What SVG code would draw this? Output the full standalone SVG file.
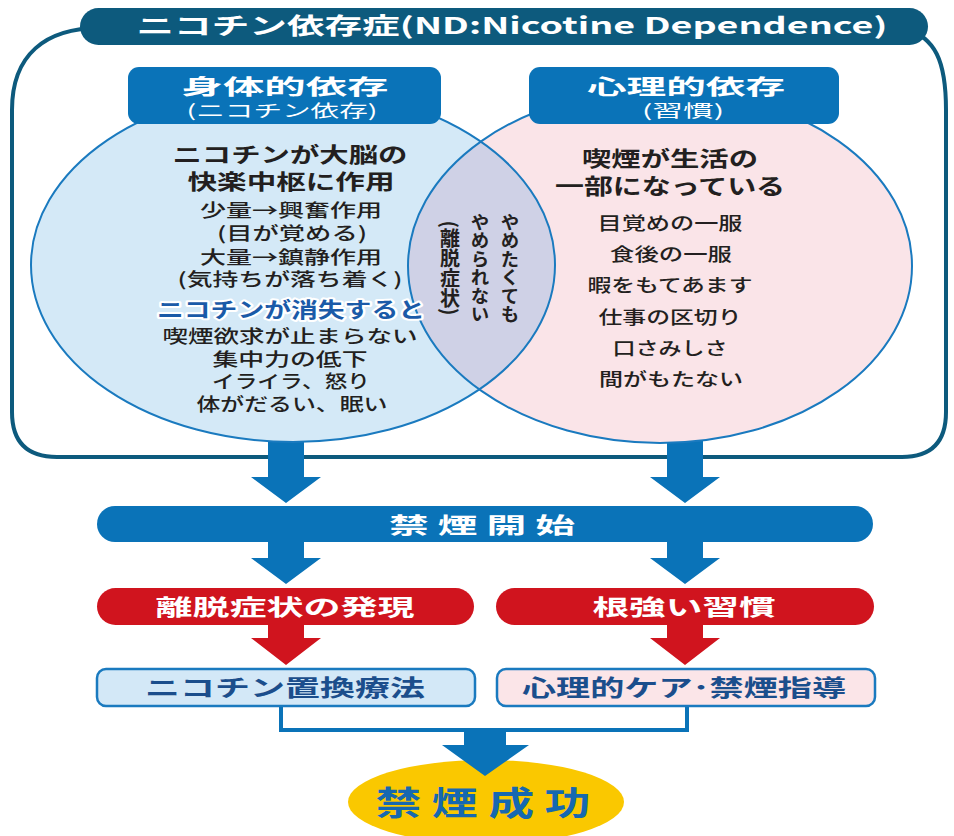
<svg xmlns="http://www.w3.org/2000/svg" width="954" height="836" viewBox="0 0 954 836">
<style>
text{font-family:"Noto Sans CJK JP","Noto Sans",sans-serif;text-anchor:middle}
.b{font-weight:bold}
.m{font-weight:500}
.w{fill:#ffffff}
.d{fill:#231f20}
.n{fill:#1b4e8c;font-weight:bold}
.blue{fill:#0a73b8}
.red{fill:#d0141e}
.vert{writing-mode:vertical-rl;font-weight:bold;fill:#231f20}
</style>
<defs>
<clipPath id="clipL"><ellipse cx="293" cy="265" rx="262" ry="177"/></clipPath>
</defs>
<rect width="954" height="836" fill="#ffffff"/>
<g id="frame">
<path d="M100 28 C45 28 12 55 12 110 L12 412 Q12 457 57 457 L902 457 Q946 457 946 412 L946 110 C946 60 935 38 905 28" fill="none" stroke="#0d5a7d" stroke-width="4"/>
</g>
<g id="title">
<rect x="80" y="8" width="848" height="37" rx="18.5" fill="#0d5a7d"/>
<text x="512" y="34" class="w b" font-size="23" textLength="751" lengthAdjust="spacingAndGlyphs">ニコチン依存症(ND:Nicotine Dependence)</text>
</g>
<g id="connectors">
<path class="blue" d="M268 430 H304 V477 H321 L286 503 L251 477 H268 Z"/>
<path class="blue" d="M667 430 H703 V477 H720 L685 503 L650 477 H667 Z"/>
<path class="blue" d="M268 540 H304 V558 H321 L286 584 L251 558 H268 Z"/>
<path class="blue" d="M667 540 H703 V558 H720 L685 584 L650 558 H667 Z"/>
<path class="red" d="M268 623 H304 V638 H321 L286 665 L251 638 H268 Z"/>
<path class="red" d="M667 623 H703 V638 H720 L685 665 L650 638 H667 Z"/>
<polyline points="281,705 281,730 687,730 687,705" fill="none" stroke="#0a73b8" stroke-width="4"/>
</g>
<g id="venn">
<ellipse cx="293" cy="265" rx="262" ry="177" fill="#d4e9f7"/>
<ellipse cx="660" cy="266" rx="252" ry="177" fill="#fae4e8"/>
<ellipse cx="660" cy="266" rx="252" ry="177" fill="#cfd1e6" clip-path="url(#clipL)"/>
<ellipse cx="293" cy="265" rx="262" ry="177" fill="none" stroke="#1a7abf" stroke-width="2"/>
<ellipse cx="660" cy="266" rx="252" ry="177" fill="none" stroke="#1a7abf" stroke-width="2"/>
</g>
<g id="physical">
<rect x="128" y="67" width="313" height="57" rx="11" fill="#0a73b8"/>
<text x="285" y="94" class="w b" font-size="21" textLength="207" lengthAdjust="spacingAndGlyphs">身体的依存</text>
<text x="282" y="117" class="w" font-size="17" textLength="191" lengthAdjust="spacingAndGlyphs">(ニコチン依存)</text>
<text x="290" y="162" class="d b" font-size="21" textLength="235" lengthAdjust="spacingAndGlyphs">ニコチンが大脳の</text>
<text x="291" y="189" class="d b" font-size="21" textLength="207" lengthAdjust="spacingAndGlyphs">快楽中枢に作用</text>
<text x="291" y="217" class="d m" font-size="18" textLength="182" lengthAdjust="spacingAndGlyphs">少量→興奮作用</text>
<text x="292" y="240" class="d m" font-size="18" textLength="150" lengthAdjust="spacingAndGlyphs">(目が覚める)</text>
<text x="291" y="264" class="d m" font-size="18" textLength="182" lengthAdjust="spacingAndGlyphs">大量→鎮静作用</text>
<text x="290" y="286" class="d m" font-size="18" textLength="225" lengthAdjust="spacingAndGlyphs">(気持ちが落ち着く)</text>
<text x="291" y="317" font-size="21" font-weight="bold" fill="#1a5aa8" stroke="#ffffff" stroke-width="4" paint-order="stroke" stroke-linejoin="round" textLength="268" lengthAdjust="spacingAndGlyphs">ニコチンが消失すると</text>
<text x="290" y="343" class="d m" font-size="18" textLength="255" lengthAdjust="spacingAndGlyphs">喫煙欲求が止まらない</text>
<text x="290" y="366" class="d m" font-size="18" textLength="155" lengthAdjust="spacingAndGlyphs">集中力の低下</text>
<text x="291" y="388" class="d m" font-size="18" textLength="158" lengthAdjust="spacingAndGlyphs">イライラ、怒り</text>
<text x="292" y="411" class="d m" font-size="18" textLength="191" lengthAdjust="spacingAndGlyphs">体がだるい、眠い</text>
</g>
<g id="overlap">
<text x="510" y="268" class="vert" font-size="18.5">やめたくても</text>
<text x="480" y="268" class="vert" font-size="18.5">やめられない</text>
<text x="450" y="268" class="vert" font-size="20">(離脱症状)</text>
</g>
<g id="psychological">
<rect x="529" y="67" width="310" height="57" rx="11" fill="#0a73b8"/>
<text x="686" y="94" class="w b" font-size="21" textLength="198" lengthAdjust="spacingAndGlyphs">心理的依存</text>
<text x="683" y="117" class="w" font-size="17" textLength="82" lengthAdjust="spacingAndGlyphs">(習慣)</text>
<text x="670" y="166" class="d b" font-size="21" textLength="176" lengthAdjust="spacingAndGlyphs">喫煙が生活の</text>
<text x="670" y="194" class="d b" font-size="22" textLength="230" lengthAdjust="spacingAndGlyphs">一部になっている</text>
<text x="670" y="230" class="d m" font-size="18" textLength="145" lengthAdjust="spacingAndGlyphs">目覚めの一服</text>
<text x="671" y="261" class="d m" font-size="18" textLength="122" lengthAdjust="spacingAndGlyphs">食後の一服</text>
<text x="670" y="292" class="d m" font-size="18" textLength="165" lengthAdjust="spacingAndGlyphs">暇をもてあます</text>
<text x="670" y="324" class="d m" font-size="18" textLength="143" lengthAdjust="spacingAndGlyphs">仕事の区切り</text>
<text x="670" y="355" class="d m" font-size="18" textLength="115" lengthAdjust="spacingAndGlyphs">口さみしさ</text>
<text x="671" y="386" class="d m" font-size="18" textLength="144" lengthAdjust="spacingAndGlyphs">間がもたない</text>
</g>
<g id="start">
<rect x="97" y="506" width="776" height="36" rx="18" fill="#0a73b8"/>
<text x="482" y="533" class="w b" font-size="22" textLength="186" lengthAdjust="spacingAndGlyphs">禁 煙 開 始</text>
</g>
<g id="withdrawal">
<rect x="97" y="588" width="377" height="37" rx="18.5" fill="#d0141e"/>
<text x="285" y="615" class="w b" font-size="22" textLength="259" lengthAdjust="spacingAndGlyphs">離脱症状の発現</text>
</g>
<g id="habit">
<rect x="496" y="588" width="378" height="37" rx="18.5" fill="#d0141e"/>
<text x="684" y="615" class="w b" font-size="22" textLength="183" lengthAdjust="spacingAndGlyphs">根強い習慣</text>
</g>
<g id="nrt">
<rect x="97" y="669" width="378" height="37" rx="9" fill="#d3e8f7" stroke="#1a7abf" stroke-width="2.5"/>
<text x="285" y="696" class="n" font-size="23" textLength="280" lengthAdjust="spacingAndGlyphs">ニコチン置換療法</text>
</g>
<g id="care">
<rect x="497" y="669" width="378" height="37" rx="9" fill="#fbe5e8" stroke="#1a7abf" stroke-width="2.5"/>
<text x="684" y="696" class="n" font-size="23" textLength="324" lengthAdjust="spacingAndGlyphs">心理的ケア･禁煙指導</text>
</g>
<g id="success">
<ellipse cx="486" cy="802" rx="138" ry="42" fill="#fac800"/>
<path class="blue" d="M464 728 H506 V745 H529 L485 776 L442 745 H464 Z"/>
<text x="483" y="815" font-size="33" font-weight="bold" fill="#1668b0" textLength="215" lengthAdjust="spacingAndGlyphs">禁 煙 成 功</text>
</g>
</svg>
